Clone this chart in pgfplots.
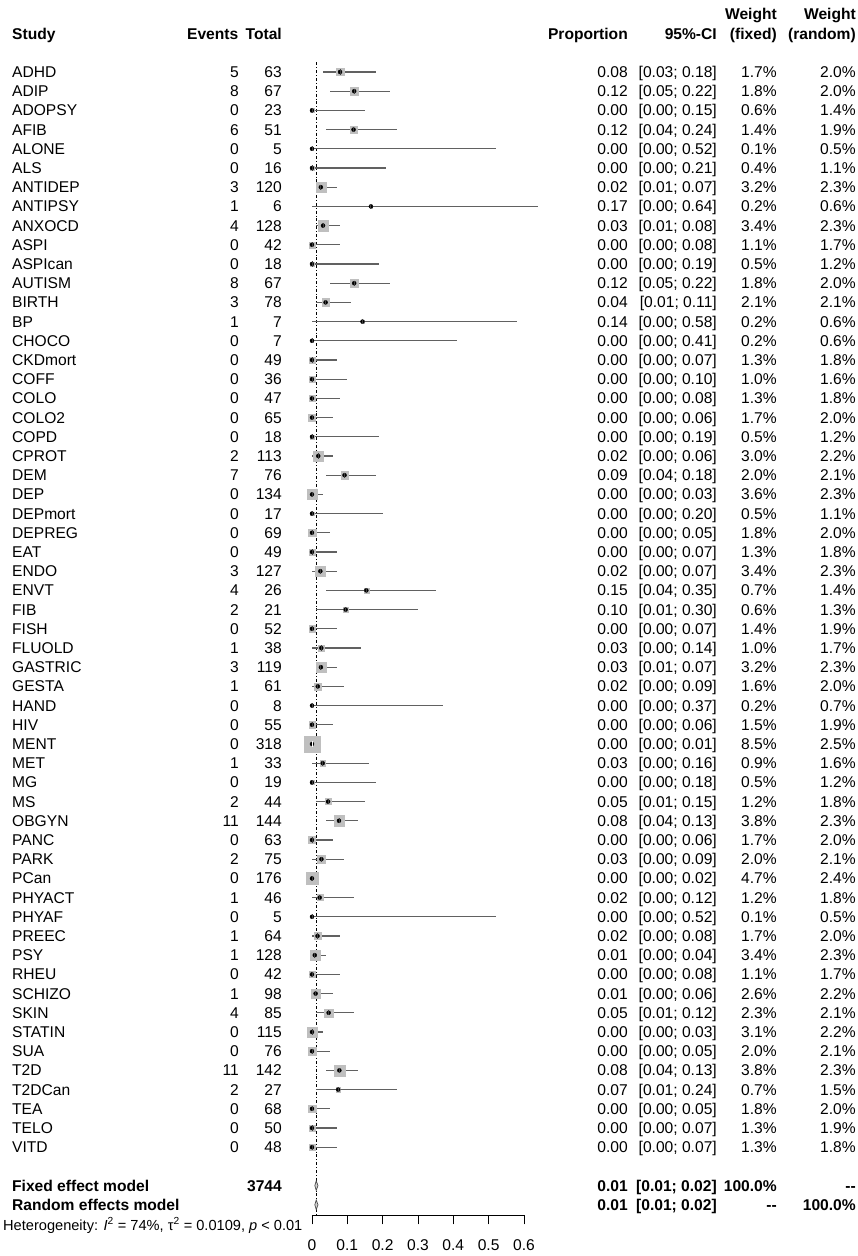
\documentclass[border=0pt]{standalone}
\usepackage{pgfplots}
\pgfplotsset{compat=1.18}
\usepackage{pgfplotstable}
\usepackage{fontspec}
\setmainfont{Liberation Sans}

\newcommand\fs{\fontsize{15.6}{18}\selectfont}
\newcommand\fsb{\fontsize{15.6}{18}\selectfont\bfseries}
\newcommand\fsh{\fontsize{14.6}{17}\selectfont}

% row study events total p(=ev/tot) shown-p lower upper w.fixed w.random
\pgfplotstableread{
row study ev tot p pd lo hi wf wr
0 ADHD 5 63 0.0794 0.08 0.03 0.18 1.7 2.0
1 ADIP 8 67 0.1194 0.12 0.05 0.22 1.8 2.0
2 ADOPSY 0 23 0 0.00 0.00 0.15 0.6 1.4
3 AFIB 6 51 0.1176 0.12 0.04 0.24 1.4 1.9
4 ALONE 0 5 0 0.00 0.00 0.52 0.1 0.5
5 ALS 0 16 0 0.00 0.00 0.21 0.4 1.1
6 ANTIDEP 3 120 0.0250 0.02 0.01 0.07 3.2 2.3
7 ANTIPSY 1 6 0.1667 0.17 0.00 0.64 0.2 0.6
8 ANXOCD 4 128 0.0313 0.03 0.01 0.08 3.4 2.3
9 ASPI 0 42 0 0.00 0.00 0.08 1.1 1.7
10 ASPIcan 0 18 0 0.00 0.00 0.19 0.5 1.2
11 AUTISM 8 67 0.1194 0.12 0.05 0.22 1.8 2.0
12 BIRTH 3 78 0.0385 0.04 0.01 0.11 2.1 2.1
13 BP 1 7 0.1429 0.14 0.00 0.58 0.2 0.6
14 CHOCO 0 7 0 0.00 0.00 0.41 0.2 0.6
15 CKDmort 0 49 0 0.00 0.00 0.07 1.3 1.8
16 COFF 0 36 0 0.00 0.00 0.10 1.0 1.6
17 COLO 0 47 0 0.00 0.00 0.08 1.3 1.8
18 COLO2 0 65 0 0.00 0.00 0.06 1.7 2.0
19 COPD 0 18 0 0.00 0.00 0.19 0.5 1.2
20 CPROT 2 113 0.0177 0.02 0.00 0.06 3.0 2.2
21 DEM 7 76 0.0921 0.09 0.04 0.18 2.0 2.1
22 DEP 0 134 0 0.00 0.00 0.03 3.6 2.3
23 DEPmort 0 17 0 0.00 0.00 0.20 0.5 1.1
24 DEPREG 0 69 0 0.00 0.00 0.05 1.8 2.0
25 EAT 0 49 0 0.00 0.00 0.07 1.3 1.8
26 ENDO 3 127 0.0236 0.02 0.00 0.07 3.4 2.3
27 ENVT 4 26 0.1538 0.15 0.04 0.35 0.7 1.4
28 FIB 2 21 0.0952 0.10 0.01 0.30 0.6 1.3
29 FISH 0 52 0 0.00 0.00 0.07 1.4 1.9
30 FLUOLD 1 38 0.0263 0.03 0.00 0.14 1.0 1.7
31 GASTRIC 3 119 0.0252 0.03 0.01 0.07 3.2 2.3
32 GESTA 1 61 0.0164 0.02 0.00 0.09 1.6 2.0
33 HAND 0 8 0 0.00 0.00 0.37 0.2 0.7
34 HIV 0 55 0 0.00 0.00 0.06 1.5 1.9
35 MENT 0 318 0 0.00 0.00 0.01 8.5 2.5
36 MET 1 33 0.0303 0.03 0.00 0.16 0.9 1.6
37 MG 0 19 0 0.00 0.00 0.18 0.5 1.2
38 MS 2 44 0.0455 0.05 0.01 0.15 1.2 1.8
39 OBGYN 11 144 0.0764 0.08 0.04 0.13 3.8 2.3
40 PANC 0 63 0 0.00 0.00 0.06 1.7 2.0
41 PARK 2 75 0.0267 0.03 0.00 0.09 2.0 2.1
42 PCan 0 176 0 0.00 0.00 0.02 4.7 2.4
43 PHYACT 1 46 0.0217 0.02 0.00 0.12 1.2 1.8
44 PHYAF 0 5 0 0.00 0.00 0.52 0.1 0.5
45 PREEC 1 64 0.0156 0.02 0.00 0.08 1.7 2.0
46 PSY 1 128 0.0078 0.01 0.00 0.04 3.4 2.3
47 RHEU 0 42 0 0.00 0.00 0.08 1.1 1.7
48 SCHIZO 1 98 0.0102 0.01 0.00 0.06 2.6 2.2
49 SKIN 4 85 0.0471 0.05 0.01 0.12 2.3 2.1
50 STATIN 0 115 0 0.00 0.00 0.03 3.1 2.2
51 SUA 0 76 0 0.00 0.00 0.05 2.0 2.1
52 T2D 11 142 0.0775 0.08 0.04 0.13 3.8 2.3
53 T2DCan 2 27 0.0741 0.07 0.01 0.24 0.7 1.5
54 TEA 0 68 0 0.00 0.00 0.05 1.8 2.0
55 TELO 0 50 0 0.00 0.00 0.07 1.3 1.9
56 VITD 0 48 0 0.00 0.00 0.07 1.3 1.8
}\studies

\pgfplotsset{
  txt/.style={only marks, mark=none, point meta=explicit symbolic,
    nodes near coords,
    nodes near coords style={font=\fs, inner sep=0pt, anchor=base #1, yshift=-5.6pt, black}},
}
\newcommand\twodig[1]{\pgfmathprintnumber[fixed, zerofill, precision=2]{#1}}

\begin{document}
\begin{tikzpicture}
\begin{axis}[
  scale only axis, width=212pt, height=1215.36pt,
  xmin=0, xmax=0.6, ymin=-59.55, ymax=3.75,
  clip=false,
  axis x line=bottom, axis y line=none,
  x axis line style={-, line width=0.9pt},
  xtick={0,0.1,0.2,0.3,0.4,0.5,0.6}, ytick=\empty,
  tick align=outside, major tick length=9pt,
  tick style={black, line width=0.9pt},
  /pgf/number format/assume math mode=true,
  xticklabel style={font=\fs, /pgf/number format/fixed, yshift=-12pt},
]
% dash-dot line at the pooled estimate
\addplot[black, line width=0.8pt, dash pattern=on 3pt off 2pt on 0.8pt off 2pt]
  coordinates {(0.012,0.5) (0.012,-59.55)};

% squares (area ~ fixed weight)
\addplot[scatter, only marks, mark=square*,
  scatter/use mapped color={draw=gray!50, fill=gray!50},
  visualization depends on={2.74*sqrt(\thisrow{wf}) \as \msz},
  scatter/@pre marker code/.append style={/tikz/mark size=\msz},
  mark options={line width=0.2pt}]
  table[x=p, y expr=-\thisrow{row}] {\studies};

% confidence intervals
\addplot[only marks, mark=none,
  error bars/.cd, x dir=both, x explicit, error mark=none,
  error bar style={line width=1.2pt, draw=black!62}]
  table[x=p, y expr=-\thisrow{row},
    x error plus expr=\thisrow{hi}-\thisrow{p},
    x error minus expr=\thisrow{p}-\thisrow{lo}] {\studies};

% estimate ticks
\addplot[only marks, mark=|, mark size=2.6pt, black!75, mark options={line width=0.8pt}]
  table[x=p, y expr=-\thisrow{row}] {\studies};

% MENT: interval inside the square
\addplot[white, line width=1.2pt] coordinates {(0,-35) (0.01,-35)};
\addplot[only marks, mark=|, mark size=2.6pt, white, mark options={line width=0.8pt}]
  coordinates {(0,-35)};

% pooled diamonds
\addplot[draw=black!70, fill=gray!35, line width=0.7pt]
  coordinates {(0.008,-58) (0.012,-57.75) (0.017,-58) (0.012,-58.25) (0.008,-58)};
\addplot[draw=black!70, fill=gray!35, line width=0.7pt]
  coordinates {(0.008,-59) (0.012,-58.75) (0.017,-59) (0.012,-59.25) (0.008,-59)};

% text columns
\addplot[txt=west] table[x expr=-0.8491, y expr=-\thisrow{row}, meta=study] {\studies};
\addplot[txt=east] table[x expr=-0.2066, y expr=-\thisrow{row}, meta=ev] {\studies};
\addplot[txt=east] table[x expr=-0.0849, y expr=-\thisrow{row}, meta=tot] {\studies};
\addplot[txt=east] table[x expr=0.8943, y expr=-\thisrow{row}, meta=pd] {\studies};
\addplot[txt=east,
  visualization depends on={\thisrow{lo} \as \cilo},
  visualization depends on={\thisrow{hi} \as \cihi},
  nodes near coords={\lbrack\twodig{\cilo}; \twodig{\cihi}\rbrack}]
  table[x expr=1.1462, y expr=-\thisrow{row}, meta=pd] {\studies};
\addplot[txt=east, nodes near coords={\pgfplotspointmeta\%}]
  table[x expr=1.3160, y expr=-\thisrow{row}, meta=wf] {\studies};
\addplot[txt=east, nodes near coords={\pgfplotspointmeta\%}]
  table[x expr=1.5396, y expr=-\thisrow{row}, meta=wr] {\studies};

% headers
\tikzset{hl/.style={font=\fsb, inner sep=0pt, anchor=base west, yshift=-5.6pt},
         hr/.style={font=\fsb, inner sep=0pt, anchor=base east, yshift=-5.6pt}}
\node[hl] at (axis cs:-0.8491,2) {Study};
\node[hr] at (axis cs:-0.2080,2) {Events};
\node[hr] at (axis cs:-0.0849,2) {Total};
\node[hr] at (axis cs:0.8943,2) {Proportion};
\node[hr] at (axis cs:1.1462,2) {95\%-CI};
\node[hr] at (axis cs:1.3160,3) {Weight};
\node[hr] at (axis cs:1.3160,2) {(fixed)};
\node[hr] at (axis cs:1.5396,3) {Weight};
\node[hr] at (axis cs:1.5396,2) {(random)};

% pooled rows
\node[hl] at (axis cs:-0.8491,-58) {Fixed effect model};
\node[hr] at (axis cs:-0.0849,-58) {3744};
\node[hr] at (axis cs:0.8943,-58) {0.01};
\node[hr] at (axis cs:1.1462,-58) {[0.01; 0.02]};
\node[hr] at (axis cs:1.3160,-58) {100.0\%};
\node[hr] at (axis cs:1.5396,-58) {-{}-};
\node[hl] at (axis cs:-0.8491,-59) {Random effects model};
\node[hr] at (axis cs:0.8943,-59) {0.01};
\node[hr] at (axis cs:1.1462,-59) {[0.01; 0.02]};
\node[hr] at (axis cs:1.3160,-59) {-{}-};
\node[hr] at (axis cs:1.5396,-59) {100.0\%};
\node[font=\fsh, inner sep=0pt, anchor=base west, yshift=-5.2pt] at (axis cs:-0.8745,-60.05)
  {Heterogeneity: \textit{I}\textsuperscript{2} = 74\%, τ\textsuperscript{2} = 0.0109, \textit{p} < 0.01};

% page frame
\path (axis cs:-0.88302,3.75) rectangle (axis cs:1.54529,-61.667);
\end{axis}
\end{tikzpicture}
\end{document}
